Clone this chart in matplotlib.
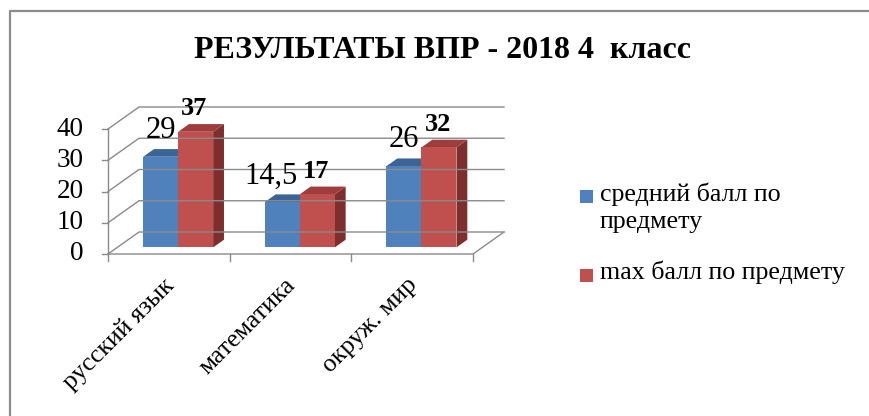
import matplotlib.pyplot as plt
from matplotlib.patches import Polygon
import numpy as np

plt.rcParams['font.family'] = ['Liberation Serif', 'DejaVu Serif']

# данные
categories = ['русский язык', 'математика', 'окруж. мир']
series_names = ['средний балл по\nпредмету', 'max балл по предмету']
avg_score = [29, 14.5, 26]
max_score = [37, 17, 32]
avg_labels = ['29', '14,5', '26']
max_labels = ['37', '17', '32']
y_ticks = [0, 10, 20, 30, 40]

# цвета (front, top, side)
blue = ['#4F81BD', '#3C6597', '#2F5079']
red = ['#C0504D', '#9E3D3B', '#7E2F2D']
grid_col = '#8A8A8A'

W, H = 870, 416
fig = plt.figure(figsize=(W / 100, H / 100), dpi=100)
ax = fig.add_axes([0, 0, 1, 1])

# масштаб: пиксели на единицу
CATPX = 121.67
VPX = 3.125
ax.set_xlim(-0.5 - 108 / CATPX, -0.5 + (W - 108) / CATPX)
ax.set_ylim(-(H - 254) / VPX, 254 / VPX)
ax.axis('off')

DX = 31 / CATPX   # глубина по x
DY = 22 / VPX     # глубина по y
n = len(categories)
x0, x1 = -0.5, n - 0.5

# стены и сетка
for v in y_ticks:
    ax.plot([x0, x0 + DX, x1 + DX], [v, v + DY, v + DY], color=grid_col, lw=1.0)
    ax.plot([x0 - 6 / CATPX, x0], [v, v], color=grid_col, lw=1.0)
    ax.text(x0 - 24 / CATPX, v, str(v), ha='right', va='center', fontsize=19.5)
ax.plot([x0, x0], [0, y_ticks[-1]], color=grid_col, lw=1.0)
ax.plot([x0, x1, x1 + DX], [0, 0, DY], color=grid_col, lw=1.0)
for k in range(n + 1):
    xx = x0 + k
    ax.plot([xx, xx], [0, -7 / VPX], color=grid_col, lw=1.0)

# столбцы
bw = 35 / CATPX
f0 = 0.3
t = 0.35


def bar3d(xl, h, cols):
    bx = xl + f0 * DX
    by = f0 * DY
    ddx, ddy = t * DX, t * DY
    front = [(bx, by), (bx + bw, by), (bx + bw, by + h), (bx, by + h)]
    top = [(bx, by + h), (bx + bw, by + h), (bx + bw + ddx, by + h + ddy), (bx + ddx, by + h + ddy)]
    side = [(bx + bw, by), (bx + bw + ddx, by + ddy), (bx + bw + ddx, by + h + ddy), (bx + bw, by + h)]
    for poly, c in zip([side, top, front], [cols[2], cols[1], cols[0]]):
        ax.add_patch(Polygon(poly, closed=True, facecolor=c, edgecolor='none'))
    return bx + bw, by + h


for i in range(n):
    rx, cy = bar3d(i - bw, avg_score[i], blue)
    ax.text(rx - 2 / CATPX, cy + 8.4, avg_labels[i], ha='right', va='center', fontsize=22)
    rx, cy = bar3d(i, max_score[i], red)
    ax.text(rx - bw + 3 / CATPX, cy + 7.4, max_labels[i], ha='left', va='center',
            fontsize=19, fontweight='bold')

# подписи категорий
for i, c in enumerate(categories):
    ax.text(i - 6 / CATPX, -20 / VPX, c, rotation=45, rotation_mode='anchor',
            ha='right', va='top', fontsize=18.5)

# заголовок
fig.text(443 / W, 1 - 51 / H, 'РЕЗУЛЬТАТЫ ВПР - 2018 4  класс', ha='center', va='center',
         fontsize=23, fontweight='bold')

# легенда
leg_y = [196, 275]
for s, (name, col) in enumerate(zip(series_names, [blue[0], red[0]])):
    sq = 13
    fig.patches.append(plt.Rectangle((580 / W, 1 - (leg_y[s] + sq / 2) / H), sq / W, sq / H,
                                     transform=fig.transFigure, facecolor=col, edgecolor='none'))
    fig.text(600 / W, 1 - (leg_y[s] - 14) / H, name, ha='left', va='top', fontsize=18.7,
             linespacing=1.35)

# рамка
fig.lines.append(plt.Line2D([10 / W, 10 / W, 1.0], [0, 1 - 11 / H, 1 - 11 / H],
                            transform=fig.transFigure, color='#8C8C8C', lw=1.6))

fig.savefig('out.png', dpi=100)
